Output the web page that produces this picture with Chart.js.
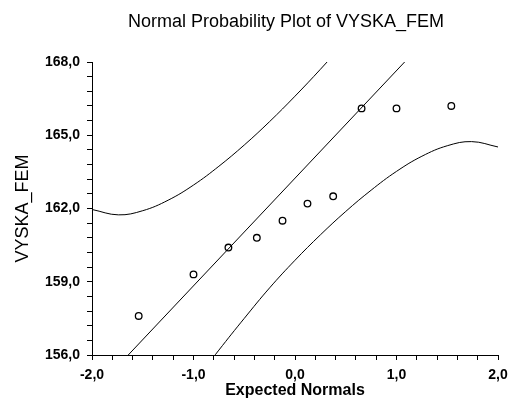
<!DOCTYPE html>
<html>
<head>
<meta charset="utf-8">
<script src="https://cdn.jsdelivr.net/npm/chart.js@4.4.1/dist/chart.umd.min.js"></script>
<style>
  html, body { margin: 0; padding: 0; background: #fff; }
  #wrap { width: 509px; height: 400px; }
</style>
</head>
<body>
<div id="wrap"><canvas id="c" width="509" height="400"></canvas></div>
<script>
// ---- data ----
const titleText = 'Normal Probability Plot of VYSKA_FEM';
const xTitle = 'Expected Normals';
const yTitle = 'VYSKA_FEM';

// observed points
const expectedNormals = [-1.54, -1.00, -0.656, -0.376, -0.123, 0.123, 0.376, 0.656, 1.00, 1.54];
const vyskaFem = [157.6, 159.3, 160.4, 160.8, 161.5, 162.2, 162.5, 166.1, 166.1, 166.2];

// reference (fit) line
const fitX = [-1.643, 1.08];
const fitY = [156.0, 168.0];

// upper confidence band
const upperX = [-2.0, -1.74, -1.5, -1.25, -1.0, -0.75, -0.5, -0.25, 0.0, 0.25, 0.5];
const upperY = [161.96, 161.74, 161.91, 162.34, 162.96, 163.73, 164.60, 165.56, 166.60, 167.70, 168.85];

// lower confidence band
const lowerX = [-1.0, -0.75, -0.5, -0.25, 0.0, 0.25, 0.5, 0.75, 1.0, 1.25, 1.5, 1.74, 2.0];
const lowerY = [154.85, 156.2, 157.5, 158.75, 159.88, 160.92, 161.88, 162.75, 163.52, 164.14, 164.57, 164.74, 164.52];

// axes
const xMin = -2, xMax = 2, xMinorStep = 0.2;
const xMajorTicks = [-2, -1, 0, 1, 2];
const yMin = 156, yMax = 168, yMinorStep = 0.6;
const yMajorTicks = [156, 159, 162, 165, 168];

// ---- chart ----
const toPts = (xs, ys) => xs.map((x, i) => ({ x: x, y: ys[i] }));
const fmt = v => v.toFixed(1).replace('.', ',');
const isMajor = (v, majors) => majors.some(m => Math.abs(m - v) < 1e-6);
const FONT = "'Liberation Sans', Arial, sans-serif";

const bgPlugin = {
  id: 'bg',
  beforeDraw(chart) {
    const ctx = chart.ctx;
    ctx.save();
    ctx.fillStyle = '#fff';
    ctx.fillRect(0, 0, chart.width, chart.height);
    ctx.restore();
  }
};
const titlePlugin = {
  id: 'topTitle',
  afterDraw(chart) {
    const ctx = chart.ctx;
    ctx.save();
    ctx.fillStyle = '#000';
    ctx.font = '18px ' + FONT;
    ctx.textAlign = 'center';
    ctx.textBaseline = 'alphabetic';
    ctx.fillText(titleText, 286, 27);
    ctx.restore();
  }
};

const lineDs = (label, data) => ({
  type: 'line', label, data, showLine: true, borderColor: '#000', borderWidth: 1,
  pointRadius: 0, pointHoverRadius: 0, fill: false, tension: 0.4
});

new Chart(document.getElementById('c'), {
  type: 'scatter',
  data: {
    datasets: [
      {
        label: 'VYSKA_FEM', data: toPts(expectedNormals, vyskaFem),
        pointStyle: 'circle', pointRadius: 3.3, borderColor: '#000', borderWidth: 1.3,
        backgroundColor: 'rgba(0,0,0,0)', showLine: false
      },
      Object.assign(lineDs('fit', toPts(fitX, fitY)), { tension: 0 }),
      lineDs('upper', toPts(upperX, upperY)),
      lineDs('lower', toPts(lowerX, lowerY))
    ]
  },
  options: {
    responsive: false,
    animation: false,
    devicePixelRatio: 1,
    layout: { padding: { top: 62, right: 11, left: 0, bottom: 0 } },
    plugins: { legend: { display: false }, tooltip: { enabled: false }, title: { display: false } },
    scales: {
      x: {
        type: 'linear', min: xMin, max: xMax,
        afterFit(s) { s.height = 45; s.paddingLeft = 0; s.paddingRight = 0; },
        afterBuildTicks(s) {
          const t = [];
          for (let i = 0; i <= Math.round((xMax - xMin) / xMinorStep); i++) t.push({ value: +(xMin + i * xMinorStep).toFixed(4) });
          s.ticks = t;
        },
        ticks: {
          autoSkip: false, maxRotation: 0, padding: 7, color: '#000',
          font: { family: FONT, size: 14, weight: 'bold' },
          callback: v => isMajor(v, xMajorTicks) ? fmt(v) : ''
        },
        grid: { drawOnChartArea: false, drawTicks: true, tickLength: 5, color: '#000', lineWidth: 1 },
        border: { display: true, color: '#000', width: 1 },
        title: { display: true, text: xTitle, color: '#000', font: { family: FONT, size: 16, weight: 'bold' }, padding: { top: 0, bottom: 0 } }
      },
      y: {
        type: 'linear', min: yMin, max: yMax,
        afterFit(s) { s.width = 92; s.paddingTop = 0; s.paddingBottom = 0; },
        afterBuildTicks(s) {
          const t = [];
          for (let i = 0; i <= Math.round((yMax - yMin) / yMinorStep); i++) t.push({ value: +(yMin + i * yMinorStep).toFixed(4) });
          s.ticks = t;
        },
        ticks: {
          autoSkip: false, padding: 7, color: '#000',
          font: { family: FONT, size: 14, weight: 'bold' },
          callback: v => isMajor(v, yMajorTicks) ? fmt(v) : ''
        },
        grid: { drawOnChartArea: false, drawTicks: true, tickLength: 5, color: '#000', lineWidth: 1 },
        border: { display: true, color: '#000', width: 1 },
        title: { display: true, text: yTitle, color: '#000', font: { family: FONT, size: 18 }, padding: { top: 12, bottom: 0 } }
      }
    }
  },
  plugins: [bgPlugin, titlePlugin]
});
</script>
</body>
</html>
